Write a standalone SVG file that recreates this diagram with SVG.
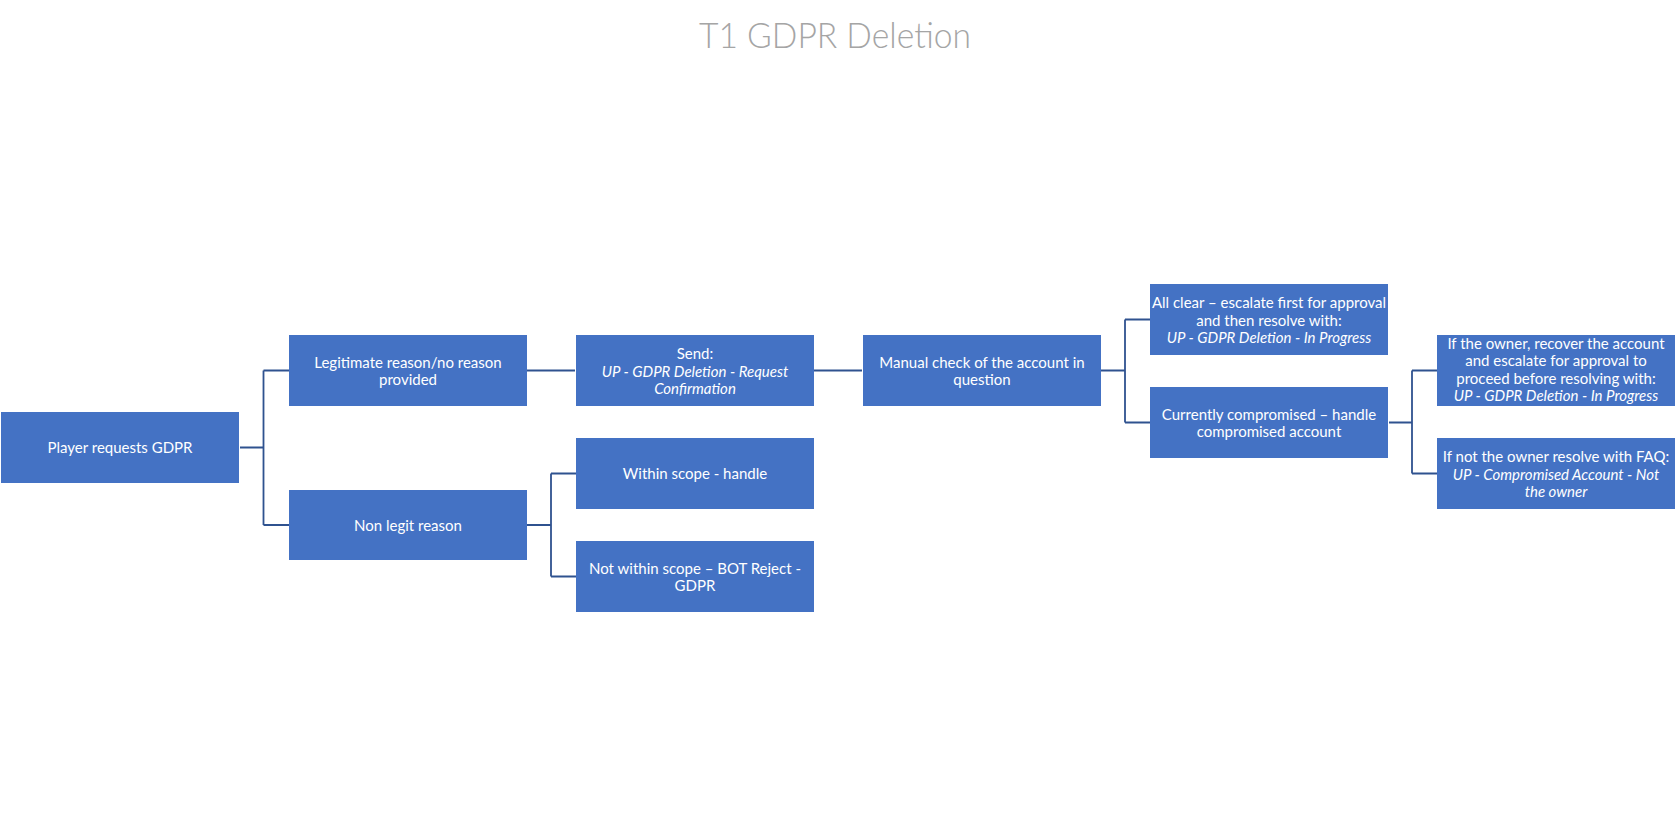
<svg xmlns="http://www.w3.org/2000/svg" width="1680" height="834" viewBox="0 0 1680 834">
<style>
.box{fill:#4472C4;}
.t{font-family:Lato,"Liberation Sans",sans-serif;font-size:15px;fill:#FFFFFF;text-anchor:middle;}
.i{font-style:italic;}
.title{font-family:Lato,"Liberation Sans",sans-serif;font-weight:300;font-size:36px;fill:#A5A5A5;}
.c{fill:none;stroke:#2F528F;stroke-width:1.8;}
</style>
<rect width="1680" height="834" fill="#FFFFFF"/>
<text class="title" x="699" y="48" textLength="272" lengthAdjust="spacingAndGlyphs">T1 GDPR Deletion</text>
<g id="connectors" class="c">
<path d="M240,447.5 H263.5 M263.5,370.5 V525 M263.5,370.5 H289 M263.5,525 H289"/>
<path d="M527,370.5 H575"/>
<path d="M527,525 H551 M551,473.5 V576.5 M551,473.5 H576 M551,576.5 H576"/>
<path d="M814,370.5 H862"/>
<path d="M1101,370.5 H1125 M1125,319.5 V422.5 M1125,319.5 H1150 M1125,422.5 H1150"/>
<path d="M1389,422.5 H1412 M1412,370.5 V473.5 M1412,370.5 H1437 M1412,473.5 H1437"/>
</g>
<g id="player">
<rect class="box" x="1" y="412" width="238" height="71"/>
<text class="t" x="120" y="453">Player requests GDPR</text>
</g>
<g id="legit">
<rect class="box" x="289" y="335" width="238" height="71"/>
<text class="t" x="408" y="367.5">Legitimate reason/no reason</text>
<text class="t" x="408" y="385">provided</text>
</g>
<g id="nonlegit">
<rect class="box" x="289" y="490" width="238" height="70"/>
<text class="t" x="408" y="530.5">Non legit reason</text>
</g>
<g id="send">
<rect class="box" x="576" y="335" width="238" height="71"/>
<text class="t" x="695" y="359">Send:</text>
<text class="t i" x="695" y="376.5">UP - GDPR Deletion - Request</text>
<text class="t i" x="695" y="394">Confirmation</text>
</g>
<g id="within">
<rect class="box" x="576" y="438" width="238" height="71"/>
<text class="t" x="695" y="479">Within scope - handle</text>
</g>
<g id="notwithin">
<rect class="box" x="576" y="541" width="238" height="71"/>
<text class="t" x="695" y="573.5">Not within scope – BOT Reject -</text>
<text class="t" x="695" y="591">GDPR</text>
</g>
<g id="manual">
<rect class="box" x="863" y="335" width="238" height="71"/>
<text class="t" x="982" y="367.5">Manual check of the account in</text>
<text class="t" x="982" y="385">question</text>
</g>
<g id="allclear">
<rect class="box" x="1150" y="284" width="238" height="71"/>
<text class="t" x="1269" y="308">All clear – escalate first for approval</text>
<text class="t" x="1269" y="325.5">and then resolve with:</text>
<text class="t i" x="1269" y="343">UP - GDPR Deletion - In Progress</text>
</g>
<g id="compromised">
<rect class="box" x="1150" y="387" width="238" height="71"/>
<text class="t" x="1269" y="419.5">Currently compromised – handle</text>
<text class="t" x="1269" y="437">compromised account</text>
</g>
<g id="owner">
<rect class="box" x="1437" y="335" width="238" height="71"/>
<text class="t" x="1556" y="348.5">If the owner, recover the account</text>
<text class="t" x="1556" y="366">and escalate for approval to</text>
<text class="t" x="1556" y="383.5">proceed before resolving with:</text>
<text class="t i" x="1556" y="401">UP - GDPR Deletion - In Progress</text>
</g>
<g id="notowner">
<rect class="box" x="1437" y="438" width="238" height="71"/>
<text class="t" x="1556" y="462">If not the owner resolve with FAQ:</text>
<text class="t i" x="1556" y="479.5">UP - Compromised Account - Not</text>
<text class="t i" x="1556" y="497">the owner</text>
</g>
</svg>
